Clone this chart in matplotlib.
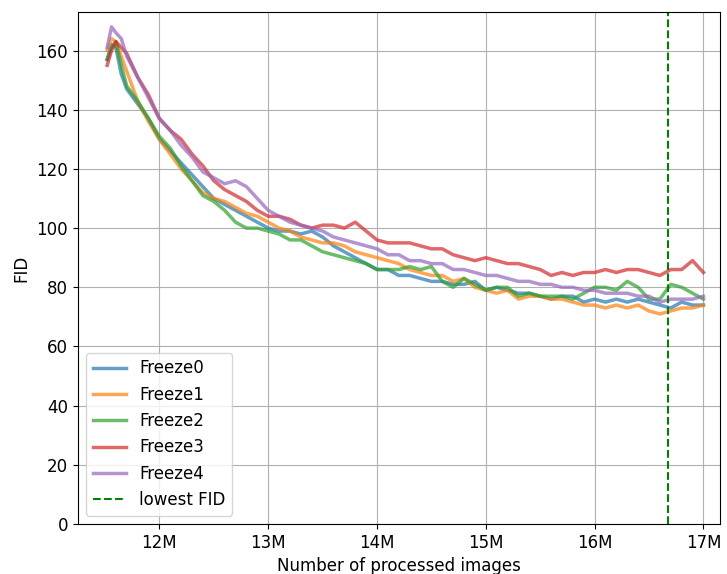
import numpy as np
import matplotlib
matplotlib.use('Agg')
import matplotlib.pyplot as plt
from matplotlib.ticker import FuncFormatter

# processed images, in millions
images_m = [11.52, 11.56, 11.60, 11.65, 11.70, 11.80, 11.90, 12.00, 12.10, 12.20,
            12.30, 12.40, 12.50, 12.60, 12.70, 12.80, 12.90, 13.00, 13.10, 13.20,
            13.30, 13.40, 13.50, 13.60, 13.70, 13.80, 13.90, 14.00, 14.10, 14.20,
            14.30, 14.40, 14.50, 14.60, 14.70, 14.80, 14.90, 15.00, 15.10, 15.20,
            15.30, 15.40, 15.50, 15.60, 15.70, 15.80, 15.90, 16.00, 16.10, 16.20,
            16.30, 16.40, 16.50, 16.60, 16.70, 16.80, 16.90, 17.00]

freeze0 = [157, 162, 161, 152, 147, 142, 137, 130, 126, 122,
           118, 114, 110, 108, 106, 104, 102, 100, 99, 99,
           98, 99, 97, 94, 92, 90, 88, 86, 86, 84,
           84, 83, 82, 82, 81, 81, 82, 79, 80, 79,
           78, 78, 77, 76, 77, 77, 75, 76, 75, 76,
           75, 76, 75, 74, 73, 75, 74, 74]
freeze1 = [160, 164, 163, 158, 153, 143, 136, 130, 125, 120,
           116, 112, 110, 109, 107, 105, 104, 102, 100, 99,
           97, 96, 95, 95, 94, 92, 91, 90, 89, 88,
           86, 85, 84, 84, 82, 83, 80, 79, 78, 79,
           76, 77, 77, 76, 76, 75, 74, 74, 73, 74,
           73, 74, 72, 71, 72, 73, 73, 74]
freeze2 = [157, 161, 163, 155, 148, 143, 137, 131, 127, 121,
           116, 111, 109, 106, 102, 100, 100, 99, 98, 96,
           96, 94, 92, 91, 90, 89, 88, 86, 86, 86,
           87, 86, 87, 82, 80, 83, 81, 79, 80, 80,
           77, 78, 77, 77, 77, 76, 78, 80, 80, 79,
           82, 80, 76, 76, 81, 80, 78, 76]
freeze3 = [155, 160, 163, 161, 159, 151, 145, 137, 133, 130,
           125, 121, 116, 113, 111, 109, 106, 104, 104, 103,
           101, 100, 101, 101, 100, 102, 99, 96, 95, 95,
           95, 94, 93, 93, 91, 90, 89, 90, 89, 88,
           88, 87, 86, 84, 85, 84, 85, 85, 86, 85,
           86, 86, 85, 84, 86, 86, 89, 85]
freeze4 = [161, 168, 166, 164, 158, 151, 144, 137, 133, 128,
           124, 119, 117, 115, 116, 114, 110, 106, 104, 102,
           101, 100, 99, 97, 96, 95, 94, 93, 91, 91,
           89, 89, 88, 88, 86, 86, 85, 84, 84, 83,
           82, 82, 81, 81, 80, 80, 79, 79, 78, 78,
           78, 77, 77, 75, 76, 76, 76, 77]

series = [freeze0, freeze1, freeze2, freeze3, freeze4]
labels = ['Freeze0', 'Freeze1', 'Freeze2', 'Freeze3', 'Freeze4']
lowest_fid_at = 16.67

fig = plt.figure(figsize=(7.27, 5.74), dpi=100)
ax = fig.add_axes([0.107, 0.087, 0.883, 0.892])

for vals, lab in zip(series, labels):
    ax.plot(images_m, vals, label=lab, linewidth=2.5, alpha=0.7)
ax.axvline(lowest_fid_at, color='green', linestyle='--', linewidth=1.5,
           label='lowest FID')

ax.set_xlim(11.25, 17.15)
ax.set_ylim(0, 173)
ax.xaxis.set_major_formatter(FuncFormatter(lambda v, p: '%dM' % round(v)))
ax.tick_params(labelsize=12)
ax.set_xlabel('Number of processed images', fontsize=12)
ax.set_ylabel('FID', fontsize=12)
ax.grid(True)
ax.legend(loc='lower left', fontsize=12)

fig.savefig('out.png', dpi=100)
